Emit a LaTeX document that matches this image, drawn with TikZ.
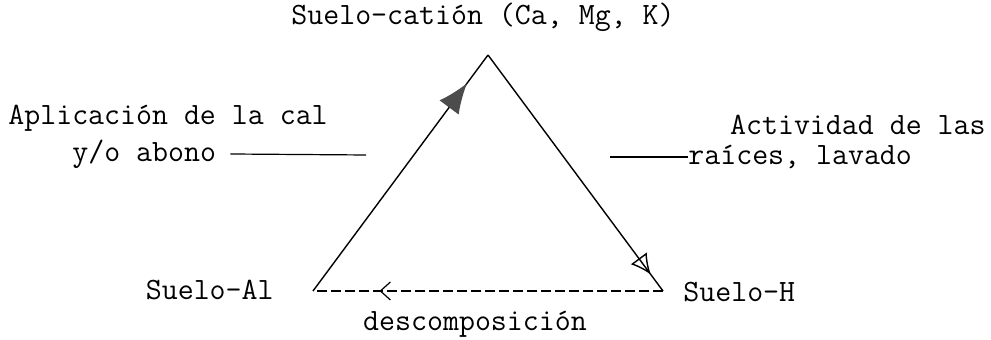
\documentclass[tikz,border=0pt]{standalone}
\usetikzlibrary{arrows.meta,decorations.markings}
\tikzset{
  lbl/.style={inner sep=0pt, font=\ttfamily\fontsize{15.5pt}{18pt}\selectfont},
  edge/.style={line width=0.7pt},
  leader/.style={line width=0.6pt},
  dashedge/.style={line width=0.6pt, dash pattern=on 5pt off 2pt},
}
\begin{document}
\begin{tikzpicture}[x=0.5pt,y=-0.5pt]
\useasboundingbox (0,0) rectangle (991,340);
\coordinate (apex) at (488,55);
\coordinate (bl) at (313,291);
\coordinate (br) at (663,291);
\node[lbl] (top) at (483,17) {Suelo-catión (Ca, Mg, K)};
\node[lbl,anchor=east] (al) at (274,290) {Suelo-Al};
\node[lbl,anchor=west] (h) at (683,292) {Suelo-H};
\node[lbl] (desc) at (475,324) {descomposición};
\node[lbl,anchor=west] (apl) at (8,118) {Aplicación de la cal};
\node[lbl,anchor=west] (abono) at (72,154) {y/o abono};
\node[lbl,anchor=east] (act) at (986,125) {Actividad de las};
\node[lbl,anchor=west] (rai) at (688,157) {raíces, lavado};
\coordinate (lend) at (366,155);
\coordinate (rstart) at (610,157);
% triangle
\draw[edge, decoration={markings, mark=at position 0.88 with {\arrow[fill=gray!55, draw=black!70]{Latex[length=15pt,width=12pt]}}}, postaction={decorate}] (bl) -- (apex);
\draw[edge, decoration={markings, mark=at position 0.93 with {\arrow{Latex[open,length=10pt,width=10pt]}}}, postaction={decorate}] (apex) -- (br);
\draw[dashedge, decoration={markings, mark=at position 0.81 with {\arrow{Straight Barb[length=5pt,width=9pt]}}}, postaction={decorate}] (br) -- (bl);
% leaders
\draw[leader] (abono.east) ++(14,0) -- (lend);
\draw[leader] (rstart) -- (rai.west);
\end{tikzpicture}
\end{document}
